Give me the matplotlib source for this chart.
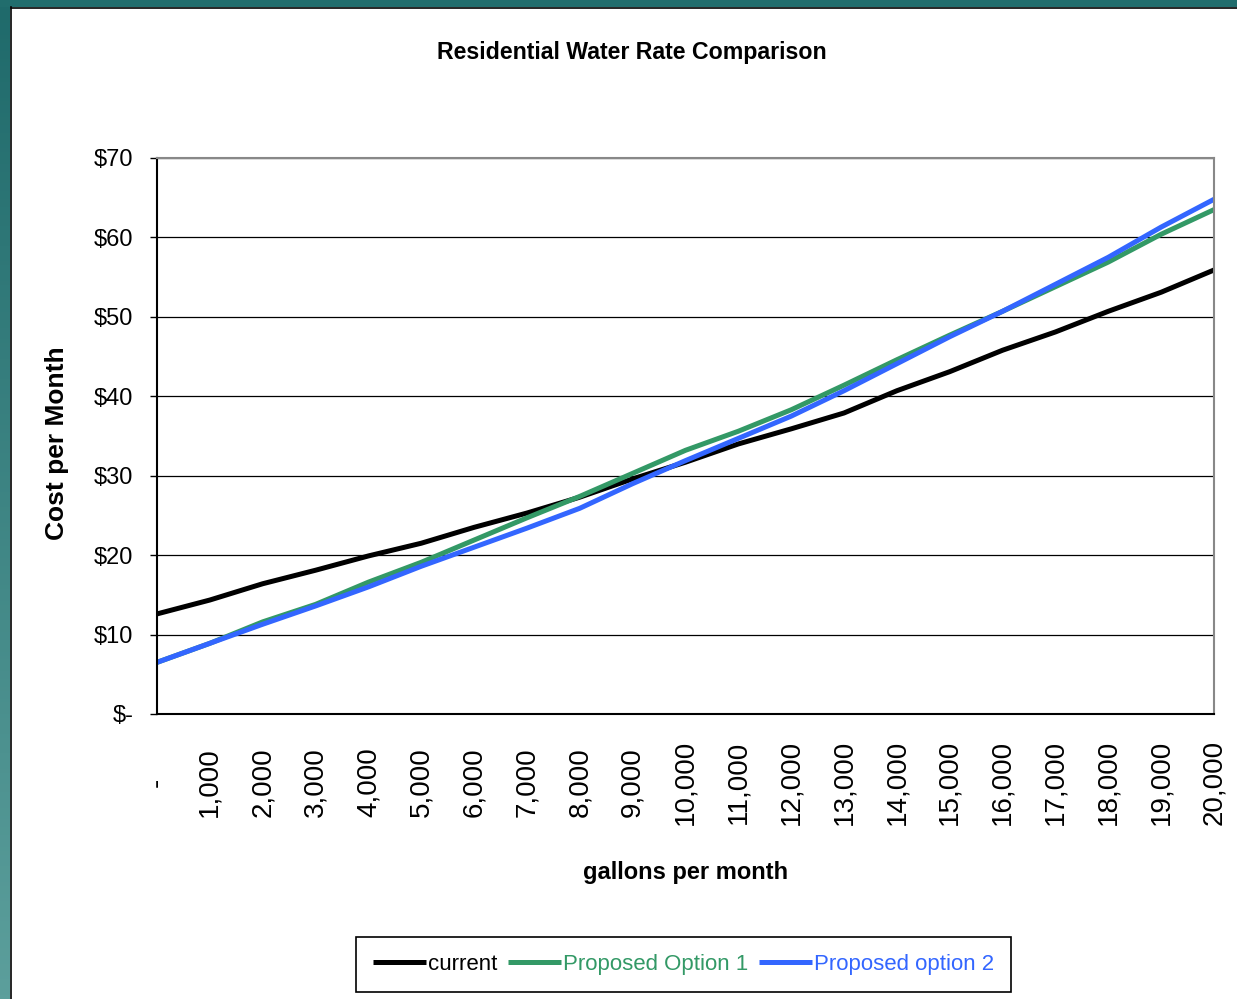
import numpy as np
import matplotlib.pyplot as plt
from matplotlib.lines import Line2D

# gallons per month
gallons = [0, 1000, 2000, 3000, 4000, 5000, 6000, 7000, 8000, 9000, 10000,
           11000, 12000, 13000, 14000, 15000, 16000, 17000, 18000, 19000, 20000]
x_tick_labels = ['-', '1,000', '2,000', '3,000', '4,000', '5,000', '6,000', '7,000',
                 '8,000', '9,000', '10,000', '11,000', '12,000', '13,000', '14,000',
                 '15,000', '16,000', '17,000', '18,000', '19,000', '20,000']

# monthly cost ($)
current = [12.6, 14.35, 16.4, 18.1, 19.9, 21.5, 23.5, 25.3, 27.3, 29.6, 31.7,
           34.0, 35.9, 37.9, 40.7, 43.1, 45.8, 48.1, 50.7, 53.1, 55.9]
option1 = [6.5, 8.9, 11.6, 13.8, 16.6, 19.1, 21.9, 24.7, 27.4, 30.3, 33.2,
           35.6, 38.3, 41.4, 44.6, 47.7, 50.7, 53.8, 56.9, 60.4, 63.5]
option2 = [6.5, 8.9, 11.3, 13.6, 16.0, 18.6, 21.0, 23.4, 25.9, 29.0, 31.9,
           34.7, 37.5, 40.7, 44.1, 47.5, 50.7, 54.1, 57.5, 61.3, 64.8]

y_ticks = [0, 10, 20, 30, 40, 50, 60, 70]
y_tick_labels = ['$-', '$10', '$20', '$30', '$40', '$50', '$60', '$70']

series_names = ['current', 'Proposed Option 1', 'Proposed option 2']
series_colors = ['#000000', '#339966', '#3366ff']

font = ['Liberation Sans', 'DejaVu Sans']

W, H = 1237, 999
fig = plt.figure(figsize=(W / 100, H / 100), dpi=100)
fig.patch.set_facecolor('white')

# teal frame on left and top
left_ax = fig.add_axes([0, 0, 10 / W, 1])
grad = np.linspace(0, 1, 256).reshape(-1, 1)
top_c = np.array([0x1f, 0x6a, 0x6b]) / 255
bot_c = np.array([0x5c, 0x9f, 0x9c]) / 255
img = top_c[None, None, :] * (1 - grad[:, :, None]) + bot_c[None, None, :] * grad[:, :, None]
left_ax.imshow(img, aspect='auto', extent=[0, 1, 0, 1], origin='upper')
left_ax.axis('off')
top_ax = fig.add_axes([0, 1 - 7 / H, 1, 7 / H])
top_ax.set_facecolor('#216d6d')
top_ax.set_xticks([])
top_ax.set_yticks([])
for s in top_ax.spines.values():
    s.set_visible(False)
fig.add_artist(Line2D([10.5 / W, 10.5 / W], [0, 1 - 7 / H], transform=fig.transFigure,
                      color='black', lw=1.2))
fig.add_artist(Line2D([10.5 / W, 1], [1 - 7.5 / H, 1 - 7.5 / H], transform=fig.transFigure,
                      color='black', lw=1.2))

ax = fig.add_axes([157 / W, 1 - 714 / H, (1214 - 157) / W, (714 - 158) / H])
for vals, name, col in zip([current, option1, option2], series_names, series_colors):
    ax.plot(gallons, vals, color=col, lw=3.6, label=name, solid_capstyle='butt')

ax.set_xlim(0, 20000)
ax.set_ylim(0, 70)
ax.set_yticks(y_ticks)
ax.set_yticklabels(y_tick_labels, fontfamily=font, fontsize=17)
ax.set_xticks(gallons)
ax.set_xticklabels(x_tick_labels, rotation=90, fontfamily=font, fontsize=20,
                   va='center', ha='center')
ax.tick_params(axis='x', length=0, pad=49)
ax.tick_params(axis='y', length=5, width=1, pad=12, direction='out')
ax.grid(axis='y', color='black', lw=0.9)
ax.set_axisbelow(True)

ax.spines['left'].set_color('black')
ax.spines['bottom'].set_color('black')
ax.spines['top'].set_color('#888888')
ax.spines['right'].set_color('#888888')
for s in ax.spines.values():
    s.set_linewidth(1.5)

fig.text(632 / W, 1 - 52 / H, 'Residential Water Rate Comparison', ha='center', va='center',
         fontfamily=font, fontweight='bold', fontsize=16.7)
fig.text(686 / W, 1 - 873 / H, 'gallons per month', ha='center', va='center',
         fontfamily=font, fontweight='bold', fontsize=17)
fig.text(57 / W, 1 - 443 / H, 'Cost per Month', ha='center', va='center', rotation=90,
         fontfamily=font, fontweight='bold', fontsize=19)

leg = fig.legend(loc='center', bbox_to_anchor=(683.5 / W, 1 - 964.5 / H), ncol=3,
                 frameon=True, fancybox=False, edgecolor='black', framealpha=1,
                 prop={'family': font, 'size': 16}, handlelength=2.4,
                 handletextpad=0.1, columnspacing=0.45, borderpad=0.75,
                 borderaxespad=0)
leg.get_frame().set_linewidth(1.2)
for txt, col in zip(leg.get_texts(), series_colors):
    txt.set_color(col)

fig.savefig('out.png', dpi=100)
